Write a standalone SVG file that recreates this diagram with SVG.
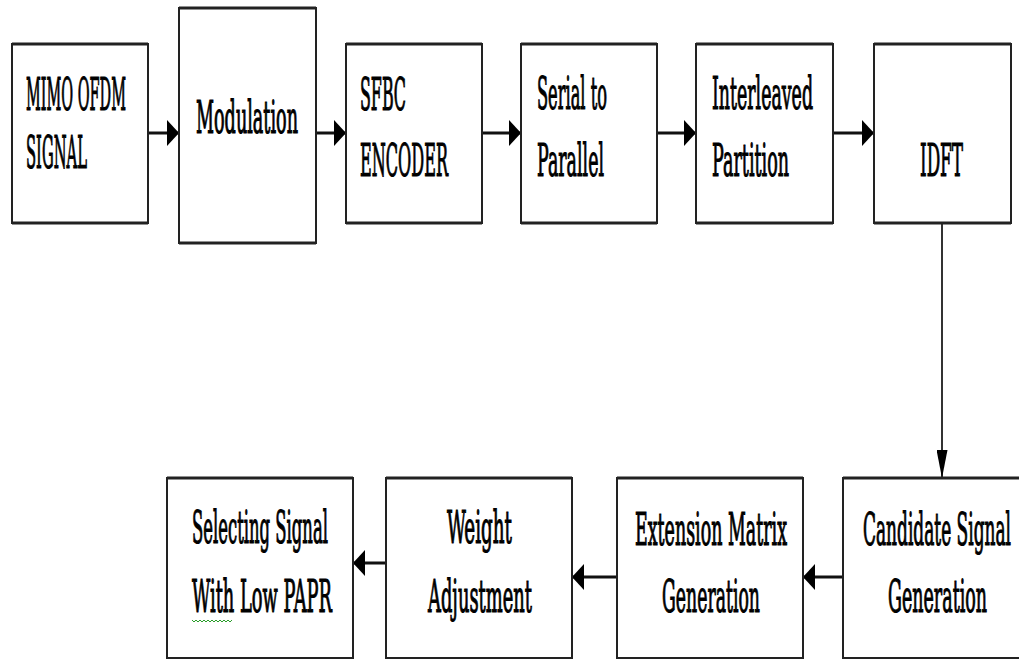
<svg xmlns="http://www.w3.org/2000/svg" width="1019" height="660" viewBox="0 0 1019 660">
  <style>
    .box { fill: #ffffff; stroke: #222222; stroke-width: 2; }
    .edge { stroke: #222222; stroke-width: 3; fill: none; }
    .lbl { font-family: "DejaVu Serif", "Liberation Serif", serif; font-size: 44px; fill: #000000; stroke: #000000; stroke-width: 1.2; }
    .conn { stroke: #111111; stroke-width: 3; fill: none; }
    .connv { stroke: #333333; stroke-width: 2; fill: none; }
  </style>
  <defs>
    <marker id="ah" markerUnits="userSpaceOnUse" viewBox="0 0 12 26" refX="12" refY="13" markerWidth="12" markerHeight="26" orient="auto">
      <path d="M0,0 L12,13 L0,26 Z" fill="#000000"/>
    </marker>
    <marker id="av" markerUnits="userSpaceOnUse" viewBox="0 0 28 11" refX="28" refY="5.5" markerWidth="28" markerHeight="11" orient="auto">
      <path d="M0,0 L28,5.5 L0,11 Z" fill="#000000"/>
    </marker>
  </defs>
  <rect width="1019" height="660" fill="#ffffff"/>

  <g id="connectors">
    <line class="conn" x1="148" y1="133" x2="179" y2="133" marker-end="url(#ah)"/>
    <line class="conn" x1="316" y1="133" x2="346" y2="133" marker-end="url(#ah)"/>
    <line class="conn" x1="482" y1="133" x2="521" y2="133" marker-end="url(#ah)"/>
    <line class="conn" x1="657" y1="133" x2="696" y2="133" marker-end="url(#ah)"/>
    <line class="conn" x1="833" y1="133" x2="874" y2="133" stroke="#555555" marker-end="url(#ah)"/>
    <line class="connv" x1="942" y1="223" x2="942" y2="478" marker-end="url(#av)"/>
    <line class="conn" x1="843" y1="577" x2="803" y2="577" marker-end="url(#ah)"/>
    <line class="conn" x1="617" y1="577" x2="572" y2="577" stroke="#555555" marker-end="url(#ah)"/>
    <line class="conn" x1="386" y1="563" x2="353" y2="563" marker-end="url(#ah)"/>
  </g>

  <g id="node-mimo">
    <rect class="box" x="12" y="44" width="136" height="179"/>
    <path class="edge" d="M12,44 H148 M12,223 H148"/>
    <text class="lbl" transform="translate(26,110) scale(0.4,1)" textLength="250" lengthAdjust="spacingAndGlyphs">MIMO OFDM</text>
    <text class="lbl" transform="translate(26,168) scale(0.4,1)" textLength="152.5" lengthAdjust="spacingAndGlyphs">SIGNAL</text>
  </g>
  <g id="node-modulation">
    <rect class="box" x="179" y="8" width="137" height="235"/>
    <path class="edge" d="M179,8 H316 M179,243 H316"/>
    <text class="lbl" transform="translate(196,133) scale(0.4,1)" textLength="255" lengthAdjust="spacingAndGlyphs">Modulation</text>
  </g>
  <g id="node-sfbc">
    <rect class="box" x="346" y="44" width="136" height="179"/>
    <path class="edge" d="M346,44 H482 M346,223 H482"/>
    <text class="lbl" transform="translate(360,110) scale(0.4,1)" textLength="115" lengthAdjust="spacingAndGlyphs">SFBC</text>
    <text class="lbl" transform="translate(360,176) scale(0.4,1)" textLength="220" lengthAdjust="spacingAndGlyphs">ENCODER</text>
  </g>
  <g id="node-serial">
    <rect class="box" x="521" y="44" width="136" height="179"/>
    <path class="edge" d="M521,44 H657 M521,223 H657"/>
    <text class="lbl" transform="translate(537,109) scale(0.4,1)" textLength="175" lengthAdjust="spacingAndGlyphs">Serial to</text>
    <text class="lbl" transform="translate(537,176) scale(0.4,1)" textLength="167.5" lengthAdjust="spacingAndGlyphs">Parallel</text>
  </g>
  <g id="node-interleaved">
    <rect class="box" x="696" y="44" width="137" height="179"/>
    <path class="edge" d="M696,44 H833 M696,223 H833"/>
    <text class="lbl" transform="translate(712,109) scale(0.4,1)" textLength="252.5" lengthAdjust="spacingAndGlyphs">Interleaved</text>
    <text class="lbl" transform="translate(712,176) scale(0.4,1)" textLength="192.5" lengthAdjust="spacingAndGlyphs">Partition</text>
  </g>
  <g id="node-idft">
    <rect class="box" x="874" y="44" width="137" height="179"/>
    <path class="edge" d="M874,44 H1011 M874,223 H1011"/>
    <text class="lbl" transform="translate(920,176) scale(0.4,1)" textLength="107.5" lengthAdjust="spacingAndGlyphs">IDFT</text>
  </g>

  <g id="node-candidate">
    <rect class="box" x="843" y="478" width="200" height="180"/>
    <path class="edge" d="M843,478 H1019"/>
    <text class="lbl" transform="translate(863,545) scale(0.4,1)" textLength="370" lengthAdjust="spacingAndGlyphs">Candidate Signal</text>
    <text class="lbl" transform="translate(888,612) scale(0.4,1)" textLength="247.5" lengthAdjust="spacingAndGlyphs">Generation</text>
  </g>
  <g id="node-extension">
    <rect class="box" x="617" y="478" width="186" height="180"/>
    <path class="edge" d="M617,478 H803"/>
    <text class="lbl" transform="translate(635,545) scale(0.4,1)" textLength="380" lengthAdjust="spacingAndGlyphs">Extension Matrix</text>
    <text class="lbl" transform="translate(662,612) scale(0.4,1)" textLength="245" lengthAdjust="spacingAndGlyphs">Generation</text>
  </g>
  <g id="node-weight">
    <rect class="box" x="386" y="478" width="186" height="180"/>
    <path class="edge" d="M386,478 H572"/>
    <text class="lbl" transform="translate(447,543) scale(0.4,1)" textLength="162.5" lengthAdjust="spacingAndGlyphs">Weight</text>
    <text class="lbl" transform="translate(428,612) scale(0.4,1)" textLength="260" lengthAdjust="spacingAndGlyphs">Adjustment</text>
  </g>
  <g id="node-selecting">
    <rect class="box" x="167" y="478" width="186" height="180"/>
    <path class="edge" d="M167,478 H353"/>
    <text class="lbl" transform="translate(192,543) scale(0.4,1)" textLength="340" lengthAdjust="spacingAndGlyphs">Selecting Signal</text>
    <text class="lbl" transform="translate(192,612) scale(0.4,1)" textLength="350" lengthAdjust="spacingAndGlyphs">With Low PAPR</text>
    <path d="M192,620 l2,2 l2,-2 l2,2 l2,-2 l2,2 l2,-2 l2,2 l2,-2 l2,2 l2,-2 l2,2 l2,-2 l2,2 l2,-2 l2,2 l2,-2 l2,2 l2,-2 l2,2 l2,-2" fill="none" stroke="#2a9d2a" stroke-width="1"/>
  </g>
</svg>
